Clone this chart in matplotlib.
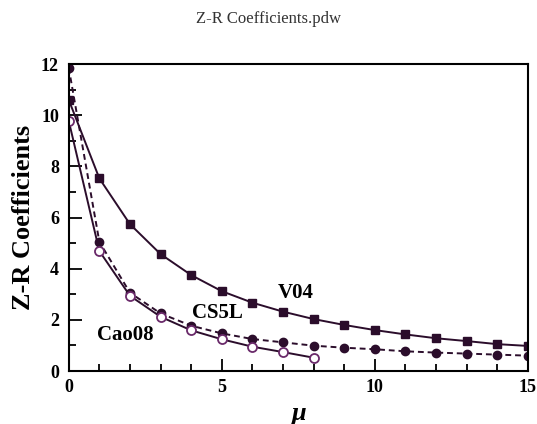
import matplotlib
matplotlib.use("Agg")
import matplotlib.pyplot as plt
from matplotlib.ticker import MultipleLocator

plt.rcParams["font.family"] = ["Liberation Serif", "DejaVu Serif"]

# === Data ===
mu_v04 = list(range(0, 16))
v04 = [10.6, 7.53, 5.74, 4.57, 3.75, 3.12, 2.67, 2.32, 2.03, 1.80,
       1.60, 1.43, 1.28, 1.17, 1.05, 0.98]

mu_cs5l = list(range(0, 16))
cs5l = [11.85, 5.05, 3.06, 2.25, 1.77, 1.47, 1.25, 1.12, 0.99, 0.91,
        0.85, 0.77, 0.72, 0.68, 0.64, 0.60]

mu_cao = list(range(0, 9))
cao08 = [9.78, 4.69, 2.94, 2.12, 1.59, 1.24, 0.95, 0.74, 0.52]

col = "#2b0d2b"

fig = plt.figure(figsize=(5.37, 4.24), dpi=100)
ax = fig.add_axes([0.128, 0.125, 0.855, 0.724])

ax.plot(mu_v04, v04, color=col, lw=1.4, marker="s", ms=5.5, mfc=col, mec=col)
ax.plot(mu_cs5l, cs5l, color=col, lw=1.4, ls=(0, (3, 2)), marker="o", ms=6, mfc=col, mec=col)
ax.plot(mu_cao, cao08, color=col, lw=1.4, marker="o", ms=6.5, mfc="white", mec="#6a2a6a", mew=1.3)

ax.text(7.4, 3.05, "V04", fontsize=15, fontweight="bold", ha="center", va="center")
ax.text(4.85, 2.27, "CS5L", fontsize=15, fontweight="bold", ha="center", va="center")
ax.text(1.85, 1.4, "Cao08", fontsize=15, fontweight="bold", ha="center", va="center")

ax.set_xlim(0, 15)
ax.set_ylim(0, 12)
ax.xaxis.set_major_locator(MultipleLocator(5))
ax.xaxis.set_minor_locator(MultipleLocator(1))
ax.yaxis.set_major_locator(MultipleLocator(2))
ax.yaxis.set_minor_locator(MultipleLocator(1))
ax.tick_params(which="both", direction="in", width=1.3, labelsize=13)
ax.tick_params(which="major", length=9)
ax.tick_params(axis="y", pad=7)
ax.tick_params(axis="x", pad=6)
ax.tick_params(which="minor", length=5)
for lbl in ax.get_xticklabels() + ax.get_yticklabels():
    lbl.set_fontweight("bold")
for s in ax.spines.values():
    s.set_linewidth(1.5)

ax.set_xlabel("μ", fontsize=19, fontweight="bold", fontstyle="italic", labelpad=4)
ax.set_ylabel("Z-R Coefficients", fontsize=19, fontweight="bold", labelpad=4)

fig.text(0.5, 0.955, "Z-R Coefficients.pdw", fontsize=12, ha="center", va="center", color="#333333")

fig.savefig("out.png", dpi=100)
